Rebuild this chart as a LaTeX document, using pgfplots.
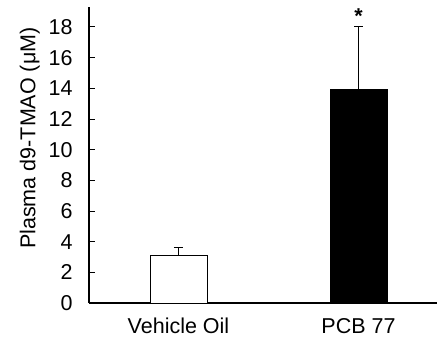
\documentclass[border=0pt]{standalone}
\usepackage{fontspec}
\setmainfont{Liberation Sans}
\usepackage{pgfplots}
\pgfplotsset{compat=1.18}
\begin{document}
\begin{tikzpicture}[x=1pt,y=1pt]
\fontsize{21.5}{25}\selectfont
\path[use as bounding box] (0,0) rectangle (437,339);
\begin{axis}[
  at={(89pt,36pt)}, anchor=south west,
  scale only axis,
  width=348pt, height=296pt,
  xmin=-0.4972, xmax=1.4361,
  ymin=0, ymax=19.3,
  axis x line*=bottom, axis y line*=left,
  axis line style={line width=1.1pt, -},
  xtick={0,1}, xticklabels={Vehicle Oil, PCB 77},
  xtick style={draw=none},
  ytick={0,2,...,18},
  ytick align=inside,
  major tick length=6pt,
  tick style={line width=0.9pt, black},
  /pgf/number format/assume math mode=true,
  ticklabel style={font=\fontsize{21.5}{25}\selectfont},
  xticklabel style={yshift=-8pt},
  yticklabel style={xshift=-9pt},
  label style={font=\fontsize{21.5}{25}\selectfont},
  ylabel={Plasma d9-TMAO (μM)},
  ylabel style={at={(axis description cs:-0.17,0.557)}, anchor=center},
  clip=false,
]
\addplot[ybar, bar width=57pt, bar shift=0pt, draw=black, line width=0.9pt, fill=white,
  error bars/.cd, y dir=plus, y explicit, error bar style={line width=0.9pt}, error mark options={rotate=90, mark size=4.5pt, line width=0.9pt}]
  coordinates {(0,3.13) +- (0,0.52)};
\addplot[ybar, bar width=57pt, bar shift=0pt, draw=black, line width=0.9pt, fill=black,
  error bars/.cd, y dir=plus, y explicit, error bar style={line width=0.9pt}, error mark options={rotate=90, mark size=4.5pt, line width=0.9pt}]
  coordinates {(1,13.9) +- (0,4.12)};
\node[anchor=south, font=\fontsize{21.5}{25}\selectfont\bfseries, inner sep=0pt] at (axis cs:1,18.2) {*};
\end{axis}
\end{tikzpicture}
\end{document}
